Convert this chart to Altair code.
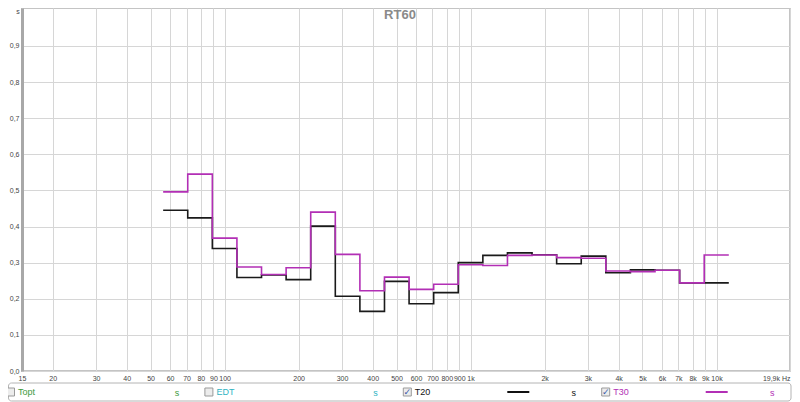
import altair as alt
import pandas as pd

# 1/3-octave bands (band number n -> centre 10**(n/10) Hz)
band_labels = ["63", "80", "100", "125", "160", "200", "250", "315", "400", "500", "630",
               "800", "1k", "1.25k", "1.6k", "2k", "2.5k", "3.15k", "4k", "5k", "6.3k", "8k", "10k"]
band_numbers = list(range(18, 41))
t20_values = [0.445, 0.424, 0.339, 0.259, 0.266, 0.253, 0.401, 0.207, 0.165, 0.248, 0.186,
              0.217, 0.300, 0.320, 0.327, 0.322, 0.297, 0.318, 0.272, 0.280, 0.279, 0.244, 0.244]
t30_values = [0.496, 0.545, 0.368, 0.288, 0.267, 0.286, 0.440, 0.323, 0.222, 0.260, 0.226,
              0.240, 0.294, 0.292, 0.320, 0.321, 0.314, 0.312, 0.277, 0.275, 0.279, 0.244, 0.321]

x_ticks = [15, 20, 30, 40, 50, 60, 70, 80, 90, 100, 200, 300, 400, 500, 600, 700, 800, 900,
           1000, 2000, 3000, 4000, 5000, 6000, 7000, 8000, 9000, 10000, 19900]
y_ticks = [0.0, 0.1, 0.2, 0.3, 0.4, 0.5, 0.6, 0.7, 0.8, 0.9]

legend_names = ["Topt", "EDT", "T20", "T30"]
legend_colors = ["#3d9a3d", "#2db3c2", "#111111", "#b22fb5"]
legend_checked = [False, False, True, True]
legend_has_line = [False, False, True, True]


def steps(name, values):
    rows = []
    for n, v in zip(band_numbers, values):
        rows.append({"series": name, "f": 10 ** ((n - 0.5) / 10), "v": v})
    rows.append({"series": name, "f": 10 ** ((band_numbers[-1] + 0.5) / 10), "v": values[-1]})
    return rows


df = pd.DataFrame(steps("T20", t20_values) + steps("T30", t30_values))

LEFT = 22  # page x of plot origin
SLOT = 198.4
leg = pd.DataFrame({
    "name": legend_names,
    "color": legend_colors,
    "checked": legend_checked,
    "line": legend_has_line,
})
leg["i"] = range(len(leg))
leg["box_x"] = 10.5 + SLOT * leg["i"] - LEFT
leg["label_x"] = leg["box_x"] + 7.5
leg["unit_x"] = 177 + SLOT * leg["i"] - LEFT
leg["line_x"] = leg["box_x"] + 100
leg["line_x2"] = leg["box_x"] + 122
leg["unit"] = "s"

FONT = "Liberation Sans"

x_enc = alt.X(
    "f:Q",
    scale=alt.Scale(type="log", domain=[15, 19900], nice=False),
    axis=alt.Axis(
        values=x_ticks,
        labelExpr="datum.value >= 19000 ? '19,9k Hz' : (datum.value >= 1000 ? (datum.value/1000) + 'k' : datum.value + '')",
        labelAlign=alt.ExprRef("datum.value >= 19000 ? 'right' : 'center'"),
        grid=True, gridColor="#d6d6d6", gridWidth=1,
        domain=False, ticks=False, title=None,
        labelFont=FONT, labelFontSize=7, labelColor="#444444",
        labelPadding=3, labelOverlap=False, labelBound=False, labelFlush=False,
    ),
)
y_enc = alt.Y(
    "v:Q",
    scale=alt.Scale(domain=[0, 1.005], nice=False, zero=True),
    axis=alt.Axis(
        values=y_ticks,
        labelExpr="replace(format(datum.value, '.1f'), '.', ',')",
        grid=True, gridColor="#d6d6d6", gridWidth=1,
        domain=True, domainColor="#a8a8a8", domainWidth=3,
        ticks=False, title=None,
        labelFont=FONT, labelFontSize=7, labelColor="#444444", labelPadding=3,
    ),
)

base = alt.Chart(df)
t20_line = base.transform_filter(alt.datum.series == "T20").mark_line(
    interpolate="step-after", color="#1a1a1a", strokeWidth=1.6
).encode(x=x_enc, y=y_enc)
t30_line = base.transform_filter(alt.datum.series == "T30").mark_line(
    interpolate="step-after", color="#b22fb5", strokeWidth=1.6
).encode(x=alt.X("f:Q"), y=alt.Y("v:Q"))

title_text = alt.Chart(pd.DataFrame({"t": ["RT60"]})).mark_text(
    font=FONT, fontSize=13, fontWeight="bold", color="#8a8a8a", align="center", baseline="middle"
).encode(x=alt.value(400 - LEFT), y=alt.value(7), text="t:N")

unit_text = alt.Chart(pd.DataFrame({"t": ["s"]})).mark_text(
    font=FONT, fontSize=7, color="#444444", align="center", baseline="top"
).encode(x=alt.value(-4), y=alt.value(0), text="t:N")

legend_box = alt.Chart(pd.DataFrame({"k": [0]})).mark_rect(
    fill="white", stroke="#b4b4b4", strokeWidth=1, cornerRadius=3
).encode(x=alt.value(-13.5), x2=alt.value(769), y=alt.value(375), y2=alt.value(393))

lg = alt.Chart(leg)
legend_checks = lg.mark_square(size=64, fill="#ececec", stroke="#9a9a9a", strokeWidth=1, opacity=1).encode(
    x=alt.X("box_x:Q", scale=None), y=alt.value(384)
)
legend_ticks = lg.transform_filter(alt.datum.checked).mark_text(
    text="✓", font="DejaVu Sans", fontSize=9, color="#3a5aa8", align="center", baseline="middle"
).encode(x=alt.X("box_x:Q", scale=None), y=alt.value(384))
legend_labels = lg.mark_text(font=FONT, fontSize=9, align="left", baseline="middle").encode(
    x=alt.X("label_x:Q", scale=None), y=alt.value(384),
    text="name:N", color=alt.Color("color:N", scale=None),
)
legend_units = lg.mark_text(font=FONT, fontSize=9, align="center", baseline="middle").encode(
    x=alt.X("unit_x:Q", scale=None), y=alt.value(385),
    text="unit:N", color=alt.Color("color:N", scale=None),
)
legend_lines = lg.transform_filter(alt.datum.line).mark_rule(strokeWidth=2).encode(
    x=alt.X("line_x:Q", scale=None), x2="line_x2:Q", y=alt.value(384),
    color=alt.Color("color:N", scale=None),
)

chart = alt.layer(
    t20_line, t30_line, title_text, unit_text,
    legend_box, legend_checks, legend_ticks, legend_labels, legend_units, legend_lines,
).properties(
    width=768, height=363,
    autosize=alt.AutoSizeParams(type="none"),
    padding={"left": 14, "top": 0, "right": 2, "bottom": 31},
    background="white",
).configure_view(stroke="#c4c4c4", strokeWidth=2)

chart.save("out.html", embed_options={"renderer": "svg", "actions": False})
